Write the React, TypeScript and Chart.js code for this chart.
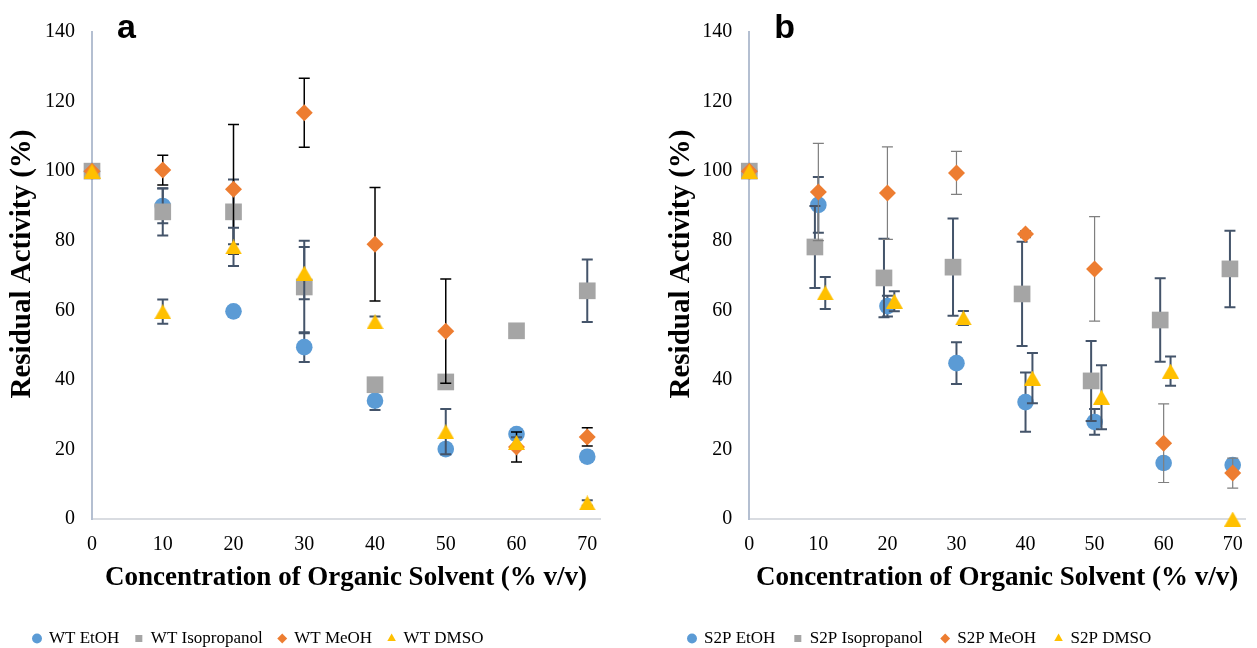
import React, { useEffect, useRef } from 'react';
import { Chart, registerables } from 'chart.js';

Chart.register(...registerables);

// ---------- data ----------
const solventConc = [0, 10, 20, 30, 40, 50, 60, 70];
const yTickMax = 140;
const yTickStep = 20;

// Panel a (WT)
const wtEtOH = [100, 90, 59.7, 49.4, 34, 20.1, 24.4, 17.9];
const wtEtOHErr = [0, 5, 1, 4.3, 2.7, 1.5, 1.5, 1.5];
const wtIso = [100, 88.3, 88.3, 66.7, 38.6, 39.4, 54.1, 65.6];
const wtIsoErr = [0, 6.8, 9.3, 13.3, 1.5, 1.5, 1.5, 9];
const wtMeOH = [100, 100.3, 94.8, 116.8, 79, 54, 20.7, 23.6];
const wtMeOHErr = [0, 4.3, 18.6, 9.9, 16.3, 15, 4.3, 2.6];
const wtDMSO = [100, 59.6, 78.2, 70.7, 56.7, 25.1, 22, 4.6];
const wtDMSOErr = [0, 3.5, 5.5, 7.5, 1.5, 6.5, 1.5, 0.8];

// Panel b (S2P)
const s2pIsoX = [0, 9.5, 19.5, 29.5, 39.5, 49.5, 59.5, 69.6];
const s2pDmsoX = [0, 11, 21, 31, 41, 51, 61, 70];
const s2pEtOH = [100, 90.3, 61.2, 44.8, 33.6, 27.9, 16.1, 15.5];
const s2pEtOHErr = [0, 8, 3, 6, 8.5, 3.7, 1.5, 1.5];
const s2pIso = [100, 78.2, 69.3, 72.4, 64.7, 39.7, 57.2, 71.9];
const s2pIsoErr = [0, 11.8, 11.3, 14, 15, 11.5, 12, 11];
const s2pMeOH = [100, 94, 93.7, 99.5, 81.9, 71.9, 21.8, 13.2];
const s2pMeOHErr = [0, 14, 13.3, 6.2, 1, 15, 11.3, 4.3];
const s2pDMSO = [100, 65, 62.6, 57.8, 40.5, 35, 42.5, 0];
const s2pDMSOErr = [0, 4.6, 2.9, 2, 7.2, 9.2, 4.2, 0];

const seriesColors = ['#5B9BD5', '#A5A5A5', '#ED7D31', '#FFC000'];
const seriesRadii = [8.3, 11.8, 8.5, 9.6];

const xTitle = 'Concentration of Organic Solvent (% v/v)';
const yTitle = 'Residual Activity (%)';

const SERIF = '"Liberation Serif", "Times New Roman", serif';

// ---------- marker shapes ----------
function makeTriangleImage(): HTMLCanvasElement {
  const w = 17;
  const h = 15;
  const c = document.createElement('canvas');
  c.width = w;
  c.height = h;
  const g = c.getContext('2d')!;
  g.fillStyle = seriesColors[3];
  g.beginPath();
  g.moveTo(w / 2, 0);
  g.lineTo(w, h);
  g.lineTo(0, h);
  g.closePath();
  g.fill();
  return c;
}

// ---------- plugins ----------
const errorBarPlugin = {
  id: 'errorBars',
  beforeDatasetDraw(chart: any, args: any) {
    const ds: any = chart.data.datasets[args.index];
    const errs: number[] = ds.errors;
    if (!errs) return;
    const xs = chart.scales.x;
    const ys = chart.scales.y;
    const ctx = chart.ctx;
    const cap = 5.5;
    ctx.save();
    ctx.strokeStyle = ds.errorColor;
    ctx.lineWidth = ds.errorWidth;
    ds.data.forEach((pt: any, i: number) => {
      const e = errs[i];
      if (!e) return;
      const px = xs.getPixelForValue(pt.x);
      const top = ys.getPixelForValue(pt.y + e);
      const bot = ys.getPixelForValue(Math.max(0, pt.y - e));
      ctx.beginPath();
      ctx.moveTo(px, top);
      ctx.lineTo(px, bot);
      ctx.moveTo(px - cap, top);
      ctx.lineTo(px + cap, top);
      ctx.moveTo(px - cap, bot);
      ctx.lineTo(px + cap, bot);
      ctx.stroke();
    });
    ctx.restore();
  },
};

const panelLabelPlugin = {
  id: 'panelLabel',
  afterDraw(chart: any, _args: any, opts: any) {
    const ctx = chart.ctx;
    ctx.save();
    ctx.font = 'bold 34px "Liberation Sans", Arial, sans-serif';
    ctx.fillStyle = '#000';
    ctx.textBaseline = 'alphabetic';
    ctx.textAlign = 'left';
    ctx.fillText(opts.text, chart.chartArea.left + opts.dx, opts.y);
    // rotated y-axis title
    ctx.font = `bold ${opts.yTitleSize}px ${SERIF}`;
    ctx.translate(opts.yTitleX, opts.yTitleY);
    ctx.rotate(-Math.PI / 2);
    ctx.textAlign = 'center';
    ctx.textBaseline = 'middle';
    ctx.fillText(yTitle, 0, 0);
    ctx.restore();
  },
};

function makeDataset(
  label: string,
  idx: number,
  xs: number[],
  ys: number[],
  errs: number[],
  errColor: string,
  errWidth: number,
  shape: any
) {
  return {
    label,
    data: ys.map((v, i) => ({ x: xs[i], y: v })),
    errors: errs,
    errorColor: errColor,
    errorWidth: errWidth,
    backgroundColor: seriesColors[idx],
    borderColor: seriesColors[idx],
    pointBackgroundColor: seriesColors[idx],
    pointBorderWidth: 0,
    borderWidth: 0,
    pointStyle: shape,
    pointRadius: seriesRadii[idx],
    pointHoverRadius: seriesRadii[idx],
    showLine: false,
    clip: false,
    order: 4 - idx,
  };
}

const CANVAS_H = 657;
const AREA_BOTTOM = 519;
const AREA_TOP = 32;

function makeConfig(
  datasets: any[],
  letter: string,
  padLeft: number,
  yWidth: number,
  padRight: number,
  yTitleX: number,
  legendPad: number
) {
  const legendH = 17 + legendPad + 10;
  const xHeight = CANVAS_H - AREA_BOTTOM - legendH;
  const xTitlePadBottom = AREA_BOTTOM + xHeight - 578 - 13.5;
  return {
    type: 'scatter',
    data: { datasets },
    plugins: [errorBarPlugin, panelLabelPlugin],
    options: {
      animation: false,
      responsive: false,
      devicePixelRatio: 1,
      events: [],
      layout: { padding: { left: padLeft, right: padRight, top: AREA_TOP, bottom: 0 } },
      scales: {
        x: {
          type: 'linear',
          min: 0,
          max: 71.8,
          grid: { display: false, drawTicks: false },
          border: { display: true, color: '#D9DCE1', width: 2 },
          ticks: {
            padding: 14,
            color: '#000',
            font: { family: SERIF, size: 20 },
          },
          afterBuildTicks: (scale: any) => {
            scale.ticks = solventConc.map((v) => ({ value: v }));
          },
          afterFit: (scale: any) => {
            scale.height = xHeight;
          },
          title: {
            display: true,
            text: xTitle,
            color: '#000',
            font: { family: SERIF, size: 27, weight: 'bold', lineHeight: 1 },
            padding: { top: 0, bottom: xTitlePadBottom },
          },
        },
        y: {
          type: 'linear',
          min: 0,
          max: yTickMax,
          grid: { display: false, drawTicks: false },
          border: { display: true, color: '#B4BFD1', width: 2 },
          ticks: {
            stepSize: yTickStep,
            padding: 17,
            color: '#000',
            font: { family: SERIF, size: 20 },
          },
          afterFit: (scale: any) => {
            scale.width = yWidth;
          },
          title: { display: false, text: yTitle },
        },
      },
      plugins: {
        legend: {
          display: true,
          position: 'bottom',
          align: 'start',
          labels: {
            usePointStyle: true,
            boxWidth: 7,
            boxHeight: 7,
            padding: legendPad,
            color: '#000',
            font: { family: SERIF, size: 17 },
            sort: (a: any, b: any) => a.datasetIndex - b.datasetIndex,
            generateLabels: (chart: any) => {
              const items = (Chart.defaults.plugins.legend.labels as any).generateLabels(chart);
              items.forEach((it: any) => {
                if (typeof it.pointStyle !== 'string') it.pointStyle = 'triangle';
              });
              return items;
            },
          },
        },
        tooltip: { enabled: false },
        panelLabel: { text: letter, dx: 25, y: 38, yTitleX, yTitleY: 264, yTitleSize: 29 },
      },
    },
  };
}

function ChartPanel({ left, width, config }: { left: number; width: number; config: any }) {
  const ref = useRef<HTMLCanvasElement | null>(null);
  useEffect(() => {
    if (!ref.current) return;
    const chart = new Chart(ref.current, config);
    return () => chart.destroy();
  }, []);
  return (
    <canvas
      ref={ref}
      width={width}
      height={CANVAS_H}
      style={{ position: 'absolute', left, top: 0, width, height: CANVAS_H }}
    />
  );
}

export default function App() {
  const dark = '#44546A';
  const tri = makeTriangleImage();
  const wtSets = [
    makeDataset('WT EtOH', 0, solventConc, wtEtOH, wtEtOHErr, dark, 2, 'circle'),
    makeDataset('WT Isopropanol', 1, solventConc, wtIso, wtIsoErr, dark, 2, 'rect'),
    makeDataset('WT MeOH', 2, solventConc, wtMeOH, wtMeOHErr, '#000000', 1.5, 'rectRot'),
    makeDataset('WT DMSO', 3, solventConc, wtDMSO, wtDMSOErr, dark, 2, tri),
  ];
  const s2pSets = [
    makeDataset('S2P EtOH', 0, solventConc, s2pEtOH, s2pEtOHErr, dark, 2, 'circle'),
    makeDataset('S2P Isopropanol', 1, s2pIsoX, s2pIso, s2pIsoErr, dark, 2, 'rect'),
    makeDataset('S2P MeOH', 2, solventConc, s2pMeOH, s2pMeOHErr, '#7F7F7F', 1.2, 'rectRot'),
    makeDataset('S2P DMSO', 3, s2pDmsoX, s2pDMSO, s2pDMSOErr, dark, 2, tri),
  ];
  const widthA = 640;
  const leftB = 640;
  const widthB = 1257 - leftB;
  // panel a: canvas at 0, axis at x=92, chart right at 600
  const cfgA = makeConfig(wtSets, 'a', 17.5, 92 - 17.5, widthA - 600, 23, 16);
  // panel b: canvas at 640, axis at x=749.3, chart right at 1257
  const cfgB = makeConfig(s2pSets, 'b', 29.5, 749.3 - leftB - 29.5, 0, 681.5 - leftB, 19);
  return (
    <div
      style={{
        position: 'fixed',
        left: 0,
        top: 0,
        width: 1257,
        height: 648,
        overflow: 'hidden',
        background: '#fff',
      }}
    >
      <ChartPanel left={0} width={widthA} config={cfgA} />
      <ChartPanel left={leftB} width={widthB} config={cfgB} />
    </div>
  );
}
